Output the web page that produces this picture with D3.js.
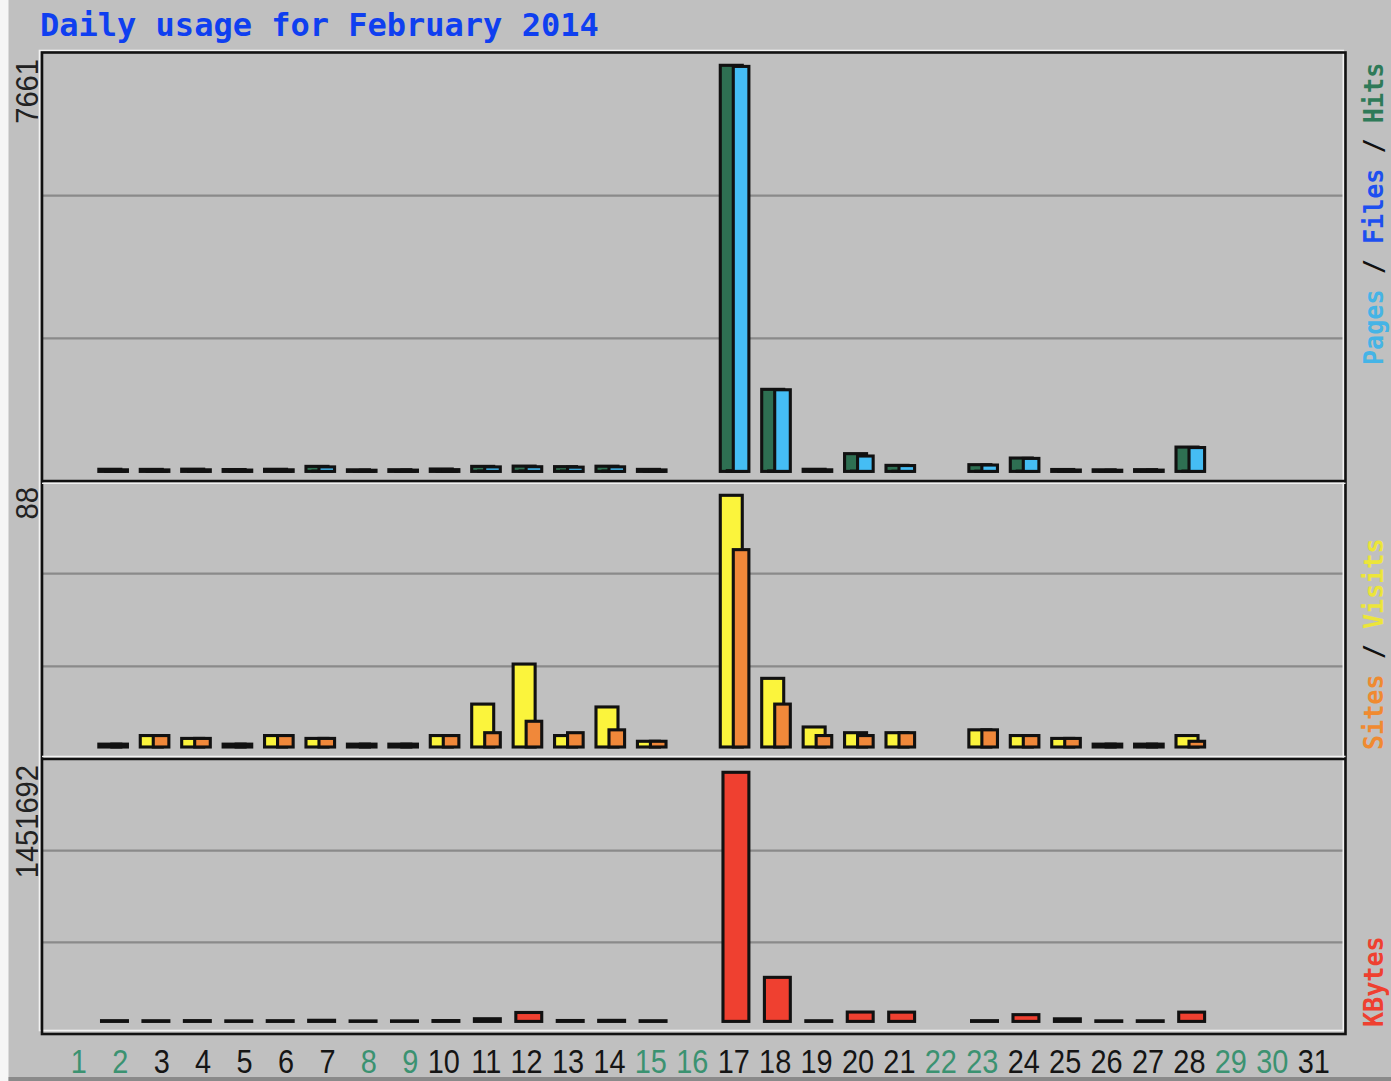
<!DOCTYPE html>
<html>
<head>
<meta charset="utf-8">
<script src="https://cdnjs.cloudflare.com/ajax/libs/d3/7.8.5/d3.min.js"></script>
<style>
  html, body { margin: 0; padding: 0; background: #c0c0c0; }
  svg { display: block; }
</style>
</head>
<body>
<div id="chart"></div>
<script>
// ---- data (February 2014) ----
const days = d3.range(1, 32);
const weekendDays = [1, 2, 8, 9, 15, 16, 22, 23, 29, 30];

const hits   = [0, 40, 38, 42, 35, 40, 95, 30, 32, 45, 95, 100, 90, 98, 38, 0, 7661, 1548, 40, 335, 114, 0, 127, 252, 36, 30, 33, 459, 0, 0, 0];
const files  = [0, 2, 3, 2, 1, 3, 6, 1, 1, 3, 7, 8, 6, 7, 2, 0, 14, 9, 2, 5, 3, 0, 4, 5, 2, 1, 1, 6, 0, 0, 0];
const pages  = [0, 30, 28, 30, 25, 30, 85, 22, 24, 33, 85, 88, 80, 86, 28, 0, 7640, 1540, 30, 290, 110, 0, 120, 245, 26, 22, 24, 450, 0, 0, 0];
const visits = [0, 1, 4, 3, 1, 4, 3, 1, 1, 4, 15, 29, 4, 14, 2, 0, 88, 24, 7, 5, 5, 0, 6, 4, 3, 1, 1, 4, 0, 0, 0];
const sites  = [0, 1, 4, 3, 1, 4, 3, 1, 1, 4, 5, 9, 5, 6, 2, 0, 69, 15, 4, 4, 5, 0, 6, 4, 3, 1, 1, 2, 0, 0, 0];
const kbytes = [0, 4200, 3900, 4500, 3100, 4100, 6500, 2800, 3000, 4800, 15500, 52000, 5200, 6100, 3900, 0, 1451692, 256700, 3800, 54500, 54000, 0, 4300, 39300, 15000, 3200, 3500, 54000, 0, 0, 0];

const W = 1391, H = 1081;

const svg = d3.select('#chart')
    .append('svg')
    .attr('width', W)
    .attr('height', H);

// background + image border
svg.append('rect').attr('width', W).attr('height', H).attr('fill', '#c0c0c0');
svg.append('rect').attr('x', 0).attr('y', 0).attr('width', 8.5).attr('height', H).attr('fill', '#f6f6f6');
svg.append('rect').attr('x', 8.5).attr('y', 1077).attr('width', W).attr('height', 4).attr('fill', '#8a8a8a');

// title
svg.append('text')
    .attr('x', 40).attr('y', 36)
    .attr('font-family', '"DejaVu Sans Mono", monospace')
    .attr('font-weight', 'bold')
    .attr('font-size', 32)
    .attr('fill', '#0f3ff0')
    .text('Daily usage for February 2014');

// left stroke-centre of each day group
let x = d3.scaleLinear()
    .domain([1, 31])
    .range([57.4, 57.4 + 30 * 41.43]);

const outline = '#111';
const frame = { left: 42, right: 1345.5, top: 52.5, bottom: 1034 };

let panels = [
    {
        top: 53, bottom: 481, base: 471.4, peak: 65.3,
        series: [
            { values: hits,  color: '#2e6f52', x0: 0,  x1: 22 },
            { values: files, color: '#1238e8', x0: 7,  x1: 26 },
            { values: pages, color: '#45bdf4', x0: 13, x1: 28.6 }
        ],
        label: [['Pages', '#45b4e6'], [' / ', '#111'], ['Files', '#1d4ff0'], [' / ', '#111'], ['Hits', '#2e7a58']],
        labelY: 365
    },
    {
        top: 481, bottom: 759, base: 747, peak: 495.3,
        series: [
            { values: visits, color: '#fbf43c', x0: 0,  x1: 22 },
            { values: sites,  color: '#f0883a', x0: 13, x1: 28.6 }
        ],
        label: [['Sites', '#f08a30'], [' / ', '#111'], ['Visits', '#ece53a']],
        labelY: 750
    },
    {
        top: 759, bottom: 1034, base: 1021.4, peak: 772.3,
        series: [
            { values: kbytes, color: '#ef4030', x0: 2.7, x1: 28.6 }
        ],
        label: [['KBytes', '#ef4030']],
        labelY: 1027
    }
];

panels.forEach(p => {
    let max = d3.max(p.series, s => d3.max(s.values));
    let y = d3.scaleLinear().domain([0, max]).range([p.base, p.peak]);

    // grid lines at thirds of the panel
    let grid = d3.scaleLinear().domain([0, 3]).range([p.top, p.bottom]);
    svg.append('g').selectAll('line').data([1, 2]).join('line')
        .attr('x1', frame.left).attr('x2', frame.right - 2)
        .attr('y1', d => grid(d)).attr('y2', d => grid(d))
        .attr('stroke', '#8a8a8a').attr('stroke-width', 2.2);

    // bars, one series at a time
    p.series.forEach(s => {
        svg.append('g').selectAll('rect')
            .data(days.filter(d => s.values[d - 1] > 0))
            .join('rect')
            .attr('x', d => x(d) + s.x0)
            .attr('width', s.x1 - s.x0)
            .attr('y', d => y(s.values[d - 1]))
            .attr('height', d => p.base - y(s.values[d - 1]))
            .attr('fill', s.color)
            .attr('stroke', outline)
            .attr('stroke-width', 3.1);
    });

    // max value on the left
    svg.append('text')
        .attr('transform', `translate(38,${p.top + 6}) rotate(-90) scale(0.91,1)`)
        .attr('text-anchor', 'end')
        .attr('font-family', '"Liberation Sans", Arial, sans-serif')
        .attr('font-size', 32)
        .attr('fill', '#222')
        .text(d3.format('d')(max));

    // series label on the right
    let lab = svg.append('text')
        .attr('transform', `translate(1383,${p.labelY}) rotate(-90) scale(0.93,1)`)
        .attr('font-family', '"DejaVu Sans Mono", monospace')
        .attr('font-weight', 'bold')
        .attr('font-size', 27);
    p.label.forEach(([t, c]) => lab.append('tspan').attr('fill', c).text(t));
});

// frame: white highlight then black lines
svg.append('rect')
    .attr('x', 39.5).attr('y', 50.5)
    .attr('width', 1343.3 - 39.5).attr('height', 1030.5 - 50.5)
    .attr('fill', 'none').attr('stroke', '#f2f2f2').attr('stroke-width', 1.6);
svg.append('rect')
    .attr('x', frame.left).attr('y', frame.top)
    .attr('width', frame.right - frame.left).attr('height', frame.bottom - frame.top)
    .attr('fill', 'none').attr('stroke', '#111').attr('stroke-width', 2.6);
svg.append('line').attr('x1', frame.left).attr('x2', frame.right)
    .attr('y1', 483.3).attr('y2', 483.3).attr('stroke', '#f2f2f2').attr('stroke-width', 1.6);
svg.append('line').attr('x1', frame.left).attr('x2', frame.right)
    .attr('y1', 481).attr('y2', 481).attr('stroke', '#111').attr('stroke-width', 2.6);
svg.append('line').attr('x1', frame.left).attr('x2', frame.right)
    .attr('y1', 756.5).attr('y2', 756.5).attr('stroke', '#f2f2f2').attr('stroke-width', 1.6);
svg.append('line').attr('x1', frame.left).attr('x2', frame.right)
    .attr('y1', 759).attr('y2', 759).attr('stroke', '#111').attr('stroke-width', 2.6);

// day labels along the bottom
svg.append('g').selectAll('text').data(days).join('text')
    .attr('transform', d => `translate(${x(d) + 29.5},1073) scale(0.85,1)`)
    .attr('text-anchor', 'end')
    .attr('font-family', '"Liberation Sans", Arial, sans-serif')
    .attr('font-size', 34)
    .attr('fill', d => weekendDays.includes(d) ? '#3b9271' : '#151515')
    .text(d => d);
</script>
</body>
</html>
